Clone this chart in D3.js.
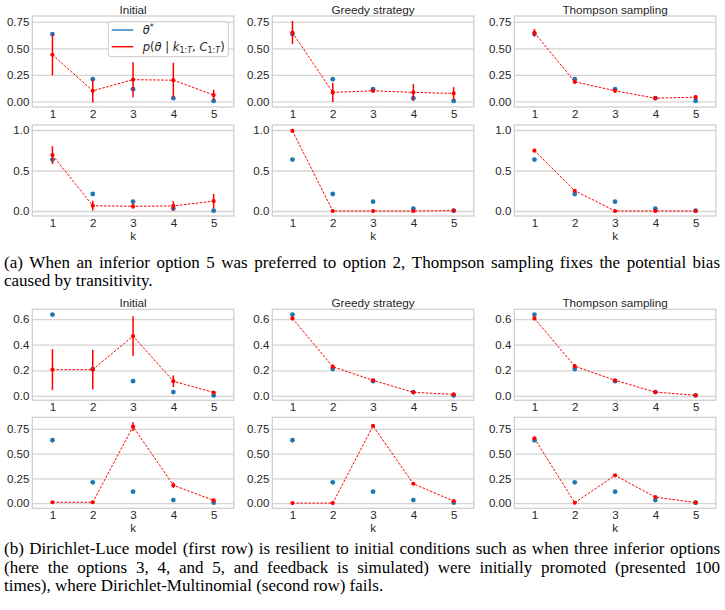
<!DOCTYPE html>
<html lang="en">
<head>
    <meta charset="UTF-8">
    <title>Posterior estimates per strategy</title>
    <script src="https://d3js.org/d3.v7.min.js"></script>
    <style>
        body { margin: 0; background: #fff; }
        svg text { fill: #262626; }
        .caption text { fill: #000; }
    </style>
</head>
<body>
<div id="chart"></div>

<script>
    // ---- data ----
    var ks = [1, 2, 3, 4, 5];
    var thetaStar = [0.635, 0.21, 0.115, 0.03, 0.004];
    var strategies = ["Initial", "Greedy strategy", "Thompson sampling"];

    // (a) first row
    var aTopMean = [[0.44, 0.10, 0.205, 0.20, 0.06],
                    [0.65, 0.085, 0.10, 0.085, 0.075],
                    [0.648, 0.185, 0.10, 0.03, 0.04]];
    var aTopErr  = [[0.195, 0.11, 0.165, 0.165, 0.05],
                    [0.11, 0.09, 0.015, 0.08, 0.06],
                    [0.035, 0.02, 0.02, 0.012, 0.02]];
    // (a) second row
    var aBotMean = [[0.69, 0.065, 0.058, 0.062, 0.122],
                    [0.99, 0.0, 0.0, 0.0, 0.005],
                    [0.745, 0.25, 0.0, 0.0, 0.0]];
    var aBotErr  = [[0.11, 0.06, 0.03, 0.06, 0.09],
                    [0.005, 0.003, 0.003, 0.003, 0.004],
                    [0.015, 0.015, 0.003, 0.003, 0.003]];
    // (b) first row
    var bTopMean = [[0.205, 0.205, 0.467, 0.115, 0.027],
                    [0.605, 0.228, 0.122, 0.028, 0.012],
                    [0.605, 0.232, 0.122, 0.03, 0.005]];
    var bTopErr  = [[0.16, 0.155, 0.155, 0.045, 0.012],
                    [0.015, 0.015, 0.008, 0.006, 0.005],
                    [0.015, 0.015, 0.008, 0.005, 0.003]];
    // (b) second row
    var bBotMean = [[0.008, 0.008, 0.773, 0.18, 0.027],
                    [0.0, 0.0, 0.78, 0.195, 0.02],
                    [0.655, 0.003, 0.28, 0.06, 0.005]];
    var bBotErr  = [[0.003, 0.003, 0.045, 0.03, 0.012],
                    [0.002, 0.002, 0.01, 0.008, 0.005],
                    [0.015, 0.003, 0.01, 0.006, 0.003]];

    var aTopTicks = [0, 0.25, 0.5, 0.75];
    var aBotTicks = [0, 0.5, 1.0];
    var bTopTicks = [0, 0.2, 0.4, 0.6];
    var bBotTicks = [0, 0.25, 0.5, 0.75];

    var captionA = ["(a) When an inferior option 5 was preferred to option 2, Thompson sampling fixes the potential bias",
                    "caused by transitivity."];
    var captionB = ["(b) Dirichlet-Luce model (first row) is resilient to initial conditions such as when three inferior options",
                    "(here the options 3, 4, and 5, and feedback is simulated) were initially promoted (presented 100",
                    "times), where Dirichlet-Multinomial (second row) fails."];

    // ---- layout ----
    var width = 725, height = 610;
    var colX = [32.3, 272.3, 514.3], panelW = 201.5, panelH = 91;
    var blue = "#1f77b4", red = "#ff0000", grid = "#d4d4d4";
    var sans = "'Liberation Sans', Arial, sans-serif";

    var svg = d3.select("#chart").append("svg")
        .attr("width", width)
        .attr("height", height)
        .style("font-family", sans);

    var rows = [
        {top: 16,    domain: [-0.053, 0.806], ticks: aTopTicks, fmt: ".2f", mean: aTopMean, err: aTopErr, title: true,  xlabel: false},
        {top: 125,   domain: [-0.062, 1.062], ticks: aBotTicks, fmt: ".1f", mean: aBotMean, err: aBotErr, title: false, xlabel: true},
        {top: 309.3, domain: [-0.034, 0.676], ticks: bTopTicks, fmt: ".1f", mean: bTopMean, err: bTopErr, title: true,  xlabel: false},
        {top: 417.3, domain: [-0.053, 0.867], ticks: bBotTicks, fmt: ".2f", mean: bBotMean, err: bBotErr, title: false, xlabel: true}
    ];

    rows.forEach(function(row, ri) {
        strategies.forEach(function(name, ci) {
            var x = d3.scaleLinear().domain([0.5, 5.5]).range([colX[ci], colX[ci] + panelW]);
            var y = d3.scaleLinear().domain(row.domain).range([row.top + panelH, row.top]);
            var g = svg.append("g");

            // horizontal grid
            g.append("g")
                .attr("transform", "translate(" + colX[ci] + ",0)")
                .call(d3.axisLeft(y).tickValues(row.ticks).tickSize(-panelW).tickFormat(""))
                .call(function(a) {
                    a.select(".domain").remove();
                    a.selectAll("line").attr("stroke", grid).attr("stroke-width", 1.3);
                });

            // frame
            g.append("rect")
                .attr("x", colX[ci]).attr("y", row.top)
                .attr("width", panelW).attr("height", panelH)
                .attr("fill", "none").attr("stroke", "#cccccc").attr("stroke-width", 1.2);

            // y tick labels
            g.append("g")
                .attr("transform", "translate(" + colX[ci] + ",0)")
                .call(d3.axisLeft(y).tickValues(row.ticks).tickSize(0).tickPadding(3).tickFormat(d3.format(row.fmt)))
                .call(function(a) {
                    a.select(".domain").remove();
                    a.selectAll("text").attr("font-size", 11.5).attr("font-family", sans).attr("fill", "#262626");
                });

            // x tick labels
            g.append("g")
                .attr("transform", "translate(0," + (row.top + panelH) + ")")
                .call(d3.axisBottom(x).tickValues(ks).tickSize(0).tickPadding(3).tickFormat(d3.format("d")))
                .call(function(a) {
                    a.select(".domain").remove();
                    a.selectAll("text").attr("font-size", 11.5).attr("font-family", sans).attr("fill", "#262626");
                });

            if (row.title) {
                g.append("text")
                    .attr("x", colX[ci] + panelW / 2).attr("y", row.top - 2)
                    .attr("text-anchor", "middle").attr("font-size", 11.7)
                    .text(name);
            }
            if (row.xlabel) {
                g.append("text")
                    .attr("x", colX[ci] + panelW / 2).attr("y", row.top + panelH + 24)
                    .attr("text-anchor", "middle").attr("font-size", 11.7)
                    .text("k");
            }

            // theta* points
            g.selectAll(".star").data(thetaStar).enter().append("circle")
                .attr("cx", function(d, i) { return x(ks[i]); })
                .attr("cy", function(d) { return y(d); })
                .attr("r", 2.4).attr("fill", blue);

            var mean = row.mean[ci], err = row.err[ci];
            var pts = ks.map(function(k, i) { return {k: k, m: mean[i], e: err[i]}; });

            // dashed posterior mean line
            g.append("path")
                .datum(pts)
                .attr("fill", "none").attr("stroke", red)
                .attr("stroke-width", 1).attr("stroke-dasharray", "2.5,1.5")
                .attr("d", d3.line().x(function(d) { return x(d.k); }).y(function(d) { return y(d.m); }));

            // error bars
            g.selectAll(".err").data(pts).enter().append("line")
                .attr("x1", function(d) { return x(d.k); })
                .attr("x2", function(d) { return x(d.k); })
                .attr("y1", function(d) { return y(d.m - d.e); })
                .attr("y2", function(d) { return y(d.m + d.e); })
                .attr("stroke", red).attr("stroke-width", 1.5);

            g.selectAll(".mean").data(pts).enter().append("circle")
                .attr("cx", function(d) { return x(d.k); })
                .attr("cy", function(d) { return y(d.m); })
                .attr("r", 2.1).attr("fill", red);
        });
    });

    // legend in the first panel
    var lg = svg.append("g").attr("transform", "translate(108.3,21.7)");
    lg.append("rect")
        .attr("width", 120).attr("height", 35).attr("rx", 2.5)
        .attr("fill", "#fff").attr("fill-opacity", 0.85)
        .attr("stroke", "#cccccc").attr("stroke-width", 1);
    lg.append("line").attr("x1", 3.4).attr("x2", 25).attr("y1", 8.3).attr("y2", 8.3)
        .attr("stroke", blue).attr("stroke-width", 1.4);
    lg.append("line").attr("x1", 3.4).attr("x2", 25).attr("y1", 25).attr("y2", 25)
        .attr("stroke", red).attr("stroke-width", 1.4);

    var mathFont = "'DejaVu Sans', sans-serif";
    var t1 = lg.append("text").attr("x", 34.4).attr("y", 12.5)
        .attr("font-size", 11.5).attr("font-family", mathFont);
    t1.append("tspan").attr("font-style", "italic").text("θ");
    t1.append("tspan").attr("dy", -4.5).attr("font-size", 8).text("*");

    var t2 = lg.append("text").attr("x", 34.4).attr("y", 29)
        .attr("font-size", 11.5).attr("font-family", mathFont);
    t2.append("tspan").attr("font-style", "italic").text("p");
    t2.append("tspan").text("(");
    t2.append("tspan").attr("font-style", "italic").text("θ");
    t2.append("tspan").text(" | ");
    t2.append("tspan").attr("font-style", "italic").text("k");
    t2.append("tspan").attr("dy", 2.5).attr("font-size", 8).text("1:");
    t2.append("tspan").attr("font-size", 8).attr("font-style", "italic").text("T");
    t2.append("tspan").attr("dy", -2.5).text(", ");
    t2.append("tspan").attr("font-style", "italic").text("C");
    t2.append("tspan").attr("dy", 2.5).attr("font-size", 8).text("1:");
    t2.append("tspan").attr("font-size", 8).attr("font-style", "italic").text("T");
    t2.append("tspan").attr("dy", -2.5).text(")");

    // captions, justified word by word
    var cap = svg.append("g").attr("class", "caption")
        .style("font-family", "'Liberation Serif', 'Times New Roman', serif")
        .style("font-size", "17px");

    function captionLine(str, y, justify) {
        var x0 = 4, x1 = 720;
        var words = str.split(" ");
        var nodes = words.map(function(w) {
            return cap.append("text").attr("y", y).text(w);
        });
        var widths = nodes.map(function(n) { return n.node().getComputedTextLength(); });
        var total = d3.sum(widths);
        var gap = justify ? (x1 - x0 - total) / (words.length - 1) : 17 * 0.25;
        var cx = x0;
        nodes.forEach(function(n, i) {
            n.attr("x", cx);
            cx += widths[i] + gap;
        });
    }

    captionLine(captionA[0], 268, true);
    captionLine(captionA[1], 286, false);
    captionLine(captionB[0], 554, true);
    captionLine(captionB[1], 572.5, true);
    captionLine(captionB[2], 591, false);
</script>

</body>
</html>
